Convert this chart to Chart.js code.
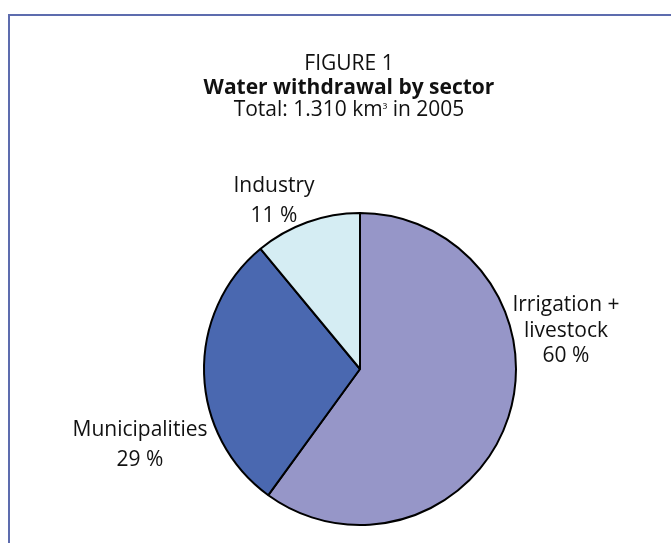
<!DOCTYPE html>
<html>
<head>
<meta charset="utf-8">
<script src="https://cdn.jsdelivr.net/npm/chart.js@4/dist/chart.umd.min.js"></script>
<style>
  html, body { margin: 0; padding: 0; background: #ffffff; }
  #wrap { width: 671px; height: 543px; position: relative; }
</style>
</head>
<body>
<div id="wrap"><canvas id="c" width="671" height="543"></canvas></div>
<script>
// ---- data ----
const categories = ['Irrigation + livestock', 'Municipalities', 'Industry'];
const shares = [60, 29, 11];
const labelLines = [['Irrigation +', 'livestock'], ['Municipalities'], ['Industry']];
const sliceColors = ['#9696c8', '#4a68b0', '#d5edf3'];
const titleLine1 = 'FIGURE 1';
const titleLine2 = 'Water withdrawal by sector';
const titleLine3 = ['Total: 1.310 km', '³', ' in 2005'];

const FONT = '"Open Sans", "Noto Sans", sans-serif';

// label placement relative to pie centre, in pixels at radius 156 (scaled with radius)
const labelLayout = [
  { dx: 206, dy: -58, lh: 25.5 },
  { dx: -220, dy: 67, lh: 30 },
  { dx: -86, dy: -177, lh: 30 }
];

const framePlugin = {
  id: 'frame',
  beforeDraw(chart) {
    const ctx = chart.ctx;
    ctx.save();
    ctx.strokeStyle = '#5d6cae';
    ctx.lineWidth = 2;
    ctx.beginPath();
    ctx.moveTo(9, chart.height);
    ctx.lineTo(9, 15);
    ctx.lineTo(chart.width, 15);
    ctx.stroke();
    ctx.restore();
  }
};

const headingPlugin = {
  id: 'heading',
  afterDraw(chart) {
    const ctx = chart.ctx;
    ctx.save();
    ctx.fillStyle = '#111111';
    ctx.textBaseline = 'alphabetic';
    const cx = 349;
    ctx.textAlign = 'center';
    ctx.font = '400 21px ' + FONT;
    ctx.fillText(titleLine1, cx, 70);
    ctx.font = '700 21px ' + FONT;
    ctx.fillText(titleLine2, cx, 94);
    // third line with small superscript
    const big = '400 21px ' + FONT, small = '400 13px ' + FONT;
    ctx.font = big; const w0 = ctx.measureText(titleLine3[0]).width;
    const w2 = ctx.measureText(titleLine3[2]).width;
    ctx.font = small; const w1 = ctx.measureText(titleLine3[1]).width;
    let x = cx - (w0 + w1 + w2) / 2;
    ctx.textAlign = 'left';
    ctx.font = big; ctx.fillText(titleLine3[0], x, 116); x += w0;
    ctx.font = small; ctx.fillText(titleLine3[1], x, 114); x += w1;
    ctx.font = big; ctx.fillText(titleLine3[2], x, 116);
    ctx.restore();
  }
};

const sliceLabelPlugin = {
  id: 'sliceLabels',
  afterDatasetsDraw(chart) {
    const ctx = chart.ctx;
    const meta = chart.getDatasetMeta(0);
    ctx.save();
    ctx.fillStyle = '#111111';
    ctx.textAlign = 'center';
    ctx.textBaseline = 'alphabetic';
    ctx.font = '400 21px ' + FONT;
    meta.data.forEach((arc, i) => {
      const p = arc.getProps(['x', 'y', 'outerRadius'], true);
      const k = p.outerRadius / 156;
      const L = labelLayout[i];
      const lines = labelLines[i].concat([shares[i] + ' %']);
      lines.forEach((t, j) => {
        ctx.fillText(t, p.x + L.dx * k, p.y + (L.dy + j * L.lh) * k);
      });
    });
    ctx.restore();
  }
};

new Chart(document.getElementById('c'), {
  type: 'pie',
  data: {
    labels: categories,
    datasets: [{
      data: shares,
      backgroundColor: sliceColors,
      borderColor: '#000000',
      borderWidth: 2,
      hoverOffset: 0
    }]
  },
  options: {
    responsive: false,
    animation: false,
    layout: { padding: { top: 212, bottom: 17, left: 203, right: 154 } },
    plugins: {
      legend: { display: false },
      tooltip: { enabled: false },
      title: { display: false }
    }
  },
  plugins: [framePlugin, headingPlugin, sliceLabelPlugin]
});
</script>
</body>
</html>
